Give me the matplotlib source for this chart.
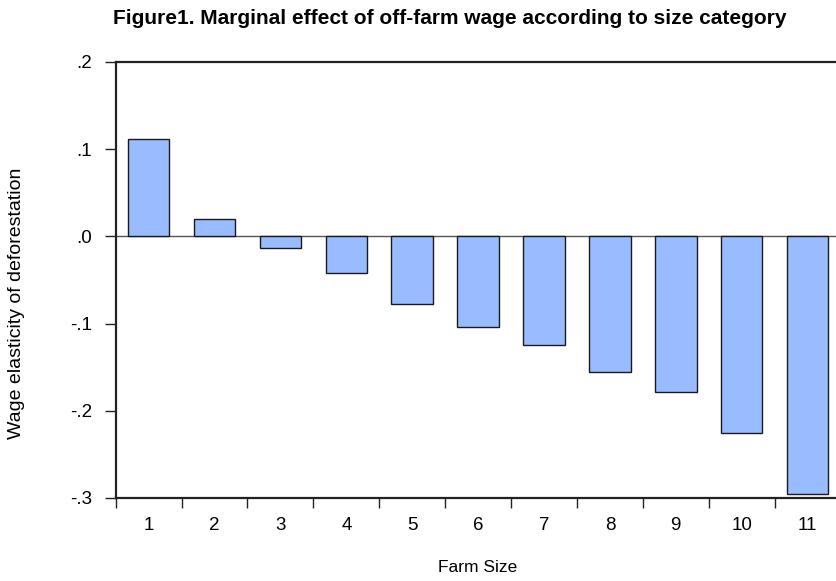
import matplotlib
matplotlib.use("Agg")
import matplotlib.pyplot as plt
import numpy as np

# farm size categories and wage elasticity of deforestation
farm_size = ["1", "2", "3", "4", "5", "6", "7", "8", "9", "10", "11"]
elasticity = [0.112, 0.020, -0.013, -0.042, -0.078, -0.104,
              -0.125, -0.155, -0.178, -0.226, -0.295]
y_ticks = [0.2, 0.1, 0.0, -0.1, -0.2, -0.3]
y_tick_labels = [".2", ".1", ".0", "-.1", "-.2", "-.3"]

plt.rcParams["font.family"] = ["Liberation Sans", "DejaVu Sans"]

fig = plt.figure(figsize=(8.36, 5.81), dpi=100)
ax = fig.add_axes([0.1384, 0.1429, 0.867, 0.7504])

x = np.arange(len(farm_size))
ax.bar(x, elasticity, width=0.63, color="#99bbff", edgecolor="#1a1a1a",
       linewidth=1.0, zorder=3)
ax.axhline(0, color="#555555", linewidth=1.0, zorder=2)

ax.set_xlim(-0.5, len(farm_size) - 0.5)
ax.set_ylim(-0.3, 0.2)

ax.set_yticks(y_ticks)
ax.set_yticklabels(y_tick_labels)
# boundary ticks between categories, labels centred under the bars
ax.set_xticks(np.arange(len(farm_size) + 1) - 0.5)
ax.set_xticklabels([])
ax.set_xticks(x, minor=True)
ax.set_xticklabels(farm_size, minor=True)
ax.tick_params(axis="x", which="minor", length=0, pad=14, labelsize=13.5)
ax.tick_params(axis="x", which="major", length=7, width=1.0, color="#222222")
ax.tick_params(axis="y", length=8, width=1.0, color="#222222", pad=9,
               labelsize=13.5)

for side in ["left", "top", "bottom"]:
    ax.spines[side].set_linewidth(1.6)
    ax.spines[side].set_color("#222222")
ax.spines["right"].set_visible(False)

fig.text(0.02, 0.478, "Wage elasticity of deforestation", fontsize=14,
         rotation=90, ha="center", va="center")
fig.text(0.571, 1 - 568 / 581, "Farm Size", fontsize=12.5,
         ha="center", va="center")
fig.text(0.135, 0.968,
         "Figure1. Marginal effect of off-farm wage according to size category",
         fontsize=15, fontweight="bold", ha="left", va="center")

fig.savefig("out.png", dpi=100)
